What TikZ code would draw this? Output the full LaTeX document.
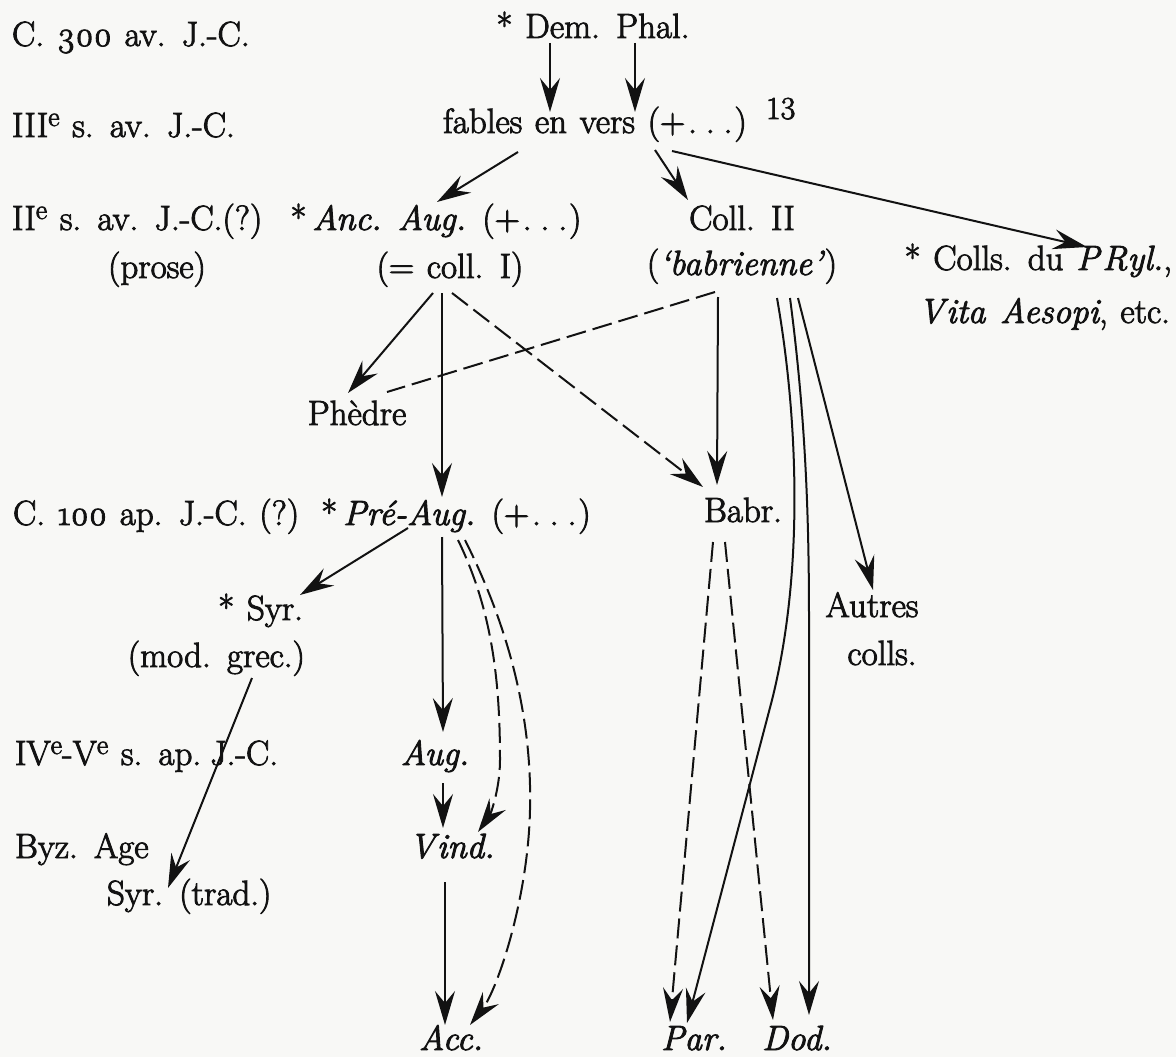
\documentclass[tikz,border=0pt]{standalone}
\usepackage{fontspec}
\setmainfont{Latin Modern Roman}[WordSpace=1.2,FakeBold=2.5]
\usetikzlibrary{arrows.meta,calc}
\definecolor{paper}{RGB}{248,248,246}
\definecolor{ink}{RGB}{18,18,18}
\newcommand{\supe}{\raisebox{11pt}{\fontsize{28}{30}\selectfont e}}
\newcommand{\etcdots}{(+\hspace{3pt}.\hspace{9pt}.\hspace{9pt}.\hspace{2pt})}
\begin{document}
\begin{tikzpicture}[x=1pt,y=-1pt,
  every node/.style={inner sep=0pt,outer sep=0pt,text=ink,font=\fontsize{35}{40}\selectfont},
  lbl/.style={anchor=base west},
  txt/.style={anchor=base},
  rtxt/.style={anchor=base east},
  conn/.style={draw=ink,line width=2pt},
  arr/.style={conn,-{Stealth[length=34pt,width=20pt,inset=12pt]}},
  dsh/.style={dash pattern=on 20pt off 7pt},
]
\path[use as bounding box,fill=paper] (0,0) rectangle (1176,1057);

% period labels
\node[lbl] (l300) at (12,46) {C. \oldstylenums{300} av. J.-C.};
\node[lbl] (l3) at (12,137) {III\supe{} s. av. J.-C.};
\node[lbl] (l2) at (12,230) {II\supe{} s. av. J.-C.(?)};
\node[txt] (prose) at (157,278) {(prose)};
\node[lbl] (l100) at (13,525) {C. \oldstylenums{100} ap. J.-C. (?)};
\node[lbl] (l45) at (15,765) {IV\supe-V\supe{} s. ap.\hspace{9pt}J.-C.};
\node[lbl] (byz) at (15,858) {Byz. Age};

% witnesses
\node[txt] (dem) at (593,38) {* Dem. Phal.};
\node[txt] (fables) at (595,133) {fables en vers \etcdots};
\node[anchor=base west,font=\fontsize{32}{34}\selectfont] (n13) at (766,119) {13};
\node[txt] (anc) at (436,230) {*\,\textit{Anc.} \textit{Aug.} \etcdots};
\node[txt] (coll1) at (450,278) {(= coll. I)};
\node[txt] (coll2) at (742,230) {Coll. II};
\node[txt] (babr2) at (742,275) {(\textit{`babrienne'})};
\node[rtxt] (pryl) at (1172,270) {* Colls. du \textit{P\kern3pt Ryl.},};
\node[rtxt] (vita) at (1170,323) {\textit{V\kern2pt ita Aesopi}, etc.};
\node[txt] (phedre) at (357,425) {Phèdre};
\node[txt] (preaug) at (456,525) {*\,\textit{Pré-Aug.} \etcdots};
\node[txt] (babr) at (743,522) {Babr.};
\node[rtxt] (syr) at (303,620) {* Syr.};
\node[rtxt] (modgrec) at (305,667) {(mod. grec.)};
\node[txt] (autres) at (872,617) {Autres};
\node[txt] (colls) at (882,665) {colls.};
\node[txt] (aug) at (435,765) {\textit{Aug.}};
\node[txt] (vind) at (452,858) {\textit{V\kern2pt ind.}};
\node[lbl] (syrtrad) at (107,905) {Syr. (trad.)};
\node[txt] (acc) at (451,1050) {\textit{Acc.}};
\node[txt] (par) at (694,1050) {\textit{Par.}};
\node[txt] (dod) at (797,1050) {\textit{Dod.}};

% connectors
\draw[arr] ($(dem.base)+(-43,5)$) -- ($(fables.base)+(-45,-21)$);
\draw[arr] ($(dem.base)+(42,5)$) -- ($(fables.base)+(40,-21)$);
\draw[arr] ($(fables.base)+(-77,19)$) -- ($(anc.base)+(1,-28)$);
\draw[arr] ($(fables.base)+(60,17)$) -- ($(coll2.base)+(-54,-30)$);
\draw[arr] ($(fables.base)+(77,18)$) -- ($(pryl.base east)+(-85,-23)$);
\draw[arr] ($(coll1.base)+(-17,15)$) -- ($(phedre.base)+(-9,-32)$);
\draw[arr] ($(coll1.base)+(-8,15)$) -- ($(preaug.base)+(-14,-28)$);
\draw[arr,dsh] ($(coll1.base)+(2,15)$) -- ($(babr.base)+(-40,-35)$);
\draw[conn,dsh] ($(babr2.base)+(-27,17)$) -- ($(phedre.base)+(30,-33)$);
\draw[arr] ($(babr2.base)+(-24,22)$) -- ($(babr.base)+(-26,-37)$);
\draw[arr] ($(babr2.base)+(35,23)$) .. controls (795,400) and (807,560) .. (772,700) -- ($(par.base)+(-7,-27)$);
\draw[arr] ($(babr2.base)+(48,23)$) .. controls (806,420) and (809,520) .. (809,620) -- ($(dod.base)+(12,-35)$);
\draw[arr] ($(babr2.base)+(56,23)$) -- ($(autres.base)+(1,-27)$);
\draw[arr,dsh] ($(babr.base)+(-30,20)$) -- ($(par.base)+(-24,-28)$);
\draw[arr,dsh] ($(babr.base)+(-18,20)$) -- ($(dod.base)+(-24,-30)$);
\draw[arr] ($(preaug.base)+(-48,3)$) -- ($(syr.base east)+(-3,-25)$);
\draw[arr] ($(preaug.base)+(-14,12)$) -- ($(aug.base)+(8,-33)$);
\draw[arr,dsh] ($(preaug.base)+(2,15)$) .. controls (492,610) and (500,680) .. (500,760) .. controls (500,790) and (490,815) .. ($(vind.base)+(26,-26)$);
\draw[arr,dsh] ($(preaug.base)+(9,15)$) .. controls (515,640) and (532,730) .. (530,810) .. controls (528,900) and (497,990) .. ($(acc.base)+(19,-25)$);
\draw[arr] ($(aug.base)+(8,18)$) -- ($(vind.base)+(-9,-30)$);
\draw[arr] ($(vind.base)+(-7,24)$) -- ($(acc.base)+(-6,-25)$);
\draw[arr] ($(modgrec.base east)+(-53,11)$) -- ($(syrtrad.base west)+(61,-17)$);
\end{tikzpicture}
\end{document}
